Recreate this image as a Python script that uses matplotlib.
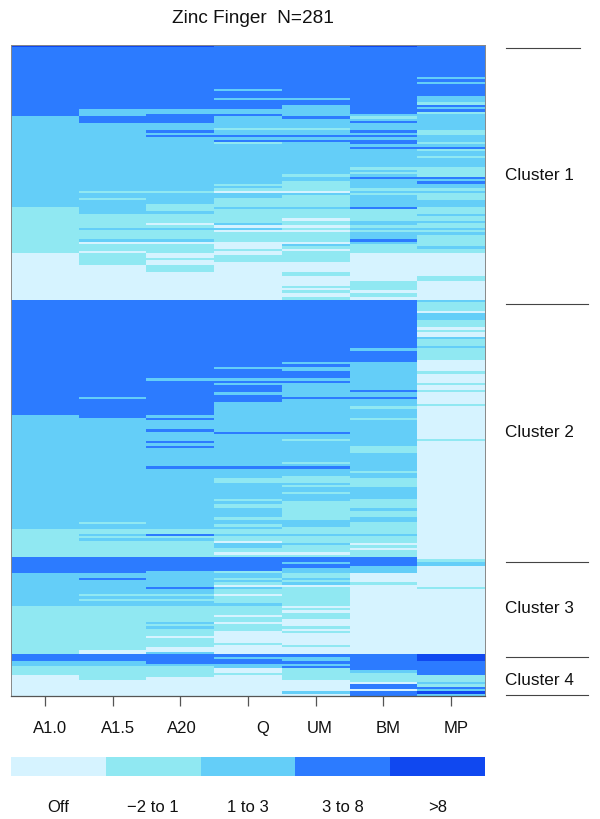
import numpy as np
import matplotlib
matplotlib.use('Agg')
import matplotlib.pyplot as plt
from matplotlib.colors import ListedColormap
from matplotlib.lines import Line2D

plt.rcParams['font.family'] = ['Liberation Sans', 'DejaVu Sans']

a10 = [(4,1),(3,31),(2,70),(1,90),(0,110),(3,160),(2,209),(1,221),(3,228),(2,242),(1,263),(3,266),(2,268),(1,272),(0,281)]
a15 = [(4,1),(3,28),(2,31),(3,34),(2,63),(1,64),(2,66),(1,67),(2,73),(1,79),(2,80),(1,84),(2,85),(0,86),(1,89),(0,90),(1,95),(0,110),
       (3,152),(2,153),(3,161),(2,206),(1,207),(2,209),(1,211),(2,212),(1,213),(2,214),(1,221),
       (3,228),(2,230),(3,231),(2,237),(1,238),(2,239),(1,240),(2,242),(1,261),(0,263),(3,266),(2,268),(1,274),(0,281)]
a20 = [(4,1),(3,28),(2,30),(3,34),(2,37),(3,38),(2,39),(3,40),(2,63),(1,64),(2,69),(1,72),(2,73),(1,77),(0,78),(1,79),(2,80),(1,84),(2,85),(0,86),(1,90),(0,92),(1,93),(0,95),(1,98),(0,110),
       (3,144),(2,145),(3,160),(2,161),(3,162),(2,166),(3,167),(2,171),(3,172),(2,173),(3,174),(2,182),(3,183),(2,209),(1,211),(3,212),(1,213),(2,214),(1,221),
       (3,227),(2,234),(3,235),(2,237),(1,238),(2,239),(1,240),(2,242),(1,249),(2,250),(1,251),(2,252),(1,255),(0,256),(1,260),(0,262),(2,263),(3,267),(2,268),(1,273),(0,281)]
q = [(3,19),(2,20),(3,23),(2,24),(3,28),(2,30),(3,31),(2,36),(1,37),(2,39),(3,40),(2,41),(3,42),(1,43),(2,60),(1,61),(2,62),(1,63),(0,64),(2,66),(1,70),(2,71),(1,77),(2,78),(0,79),(2,80),(0,81),(1,85),(0,88),(1,89),(0,91),(1,94),(0,110),
     (3,139),(2,140),(3,144),(2,145),(3,146),(2,147),(3,150),(2,151),(3,154),(2,167),(3,168),(2,182),(3,183),(2,187),(1,189),(2,196),(1,197),(2,198),(1,200),(2,204),(1,205),(2,207),(1,208),(2,209),(1,211),(2,212),(1,214),(0,215),(2,217),(1,219),(0,220),(1,221),
     (3,227),(1,228),(2,230),(1,231),(2,232),(1,233),(0,234),(2,235),(1,237),(0,238),(1,241),(2,242),(1,246),(0,247),(1,249),(0,250),(1,253),(0,258),(1,259),(0,263),(3,264),(2,265),(3,267),(2,269),(0,271),(1,272),(0,281)]
um = [(3,23),(2,24),(3,26),(2,31),(3,32),(2,36),(1,37),(2,39),(3,40),(2,41),(3,42),(2,56),(1,57),(2,59),(1,63),(0,64),(2,65),(1,70),(2,71),(1,75),(0,76),(1,78),(0,79),(1,80),(0,81),(1,85),(0,86),(2,87),(1,88),(0,89),(1,94),(0,98),(1,100),(0,104),(1,105),(0,106),(1,107),(0,109),(1,110),
      (3,137),(2,138),(3,139),(2,141),(3,144),(2,145),(3,146),(2,152),(3,153),(2,167),(3,168),(2,170),(1,171),(2,180),(1,181),(2,182),(3,183),(2,186),(1,189),(2,190),(1,191),(2,193),(1,194),(2,197),(1,205),(2,208),(1,211),(2,212),(1,215),(2,216),(1,219),(0,220),(1,221),
      (3,223),(2,224),(3,226),(2,228),(1,230),(2,231),(1,232),(2,233),(0,234),(1,242),(0,243),(1,244),(0,245),(1,248),(0,251),(1,252),(0,253),(1,254),(0,259),(1,260),(0,263),(3,264),(2,266),(3,267),(2,268),(3,269),(1,274),(0,279),(2,280),(0,281)]
bm = [(4,1),(3,30),(2,31),(1,32),(2,33),(3,34),(2,37),(3,38),(2,39),(3,40),(2,41),(3,43),(2,44),(3,45),(2,53),(1,54),(2,55),(1,56),(2,57),(3,58),(2,62),(1,63),(2,64),(1,65),(2,70),(3,71),(1,76),(2,78),(1,79),(2,80),(1,81),(2,84),(3,85),(2,86),(1,90),(0,102),(1,106),(0,107),(1,109),(0,110),
      (3,131),(2,132),(3,137),(2,149),(3,150),(2,152),(3,153),(2,156),(1,157),(2,161),(1,162),(2,173),(1,176),(2,184),(1,185),(2,187),(1,191),(2,196),(1,200),(2,201),(1,204),(2,206),(1,211),(2,212),(1,215),(0,216),(1,217),(0,218),(1,221),
      (3,225),(2,228),(0,232),(1,233),(0,263),(3,270),(2,271),(1,275),(0,276),(3,278),(0,279),(3,281)]
mp = [(3,14),(2,15),(3,16),(2,17),(3,22),(2,25),(1,26),(3,27),(2,28),(3,29),(1,30),(2,37),(1,39),(2,42),(1,43),(2,44),(3,45),(1,46),(2,48),(1,49),(2,53),(1,57),(3,58),(2,59),(3,60),(2,62),(1,63),(2,64),(1,67),(2,70),(1,73),(2,74),(1,76),(2,77),(1,79),(2,80),(1,81),(2,82),(1,87),(2,88),(1,90),(0,100),(1,102),(0,110),
      (2,111),(1,115),(0,116),(2,119),(1,122),(0,123),(1,124),(0,126),(2,127),(1,130),(2,131),(1,136),(0,141),(1,142),(0,146),(1,147),(0,149),(1,150),(0,155),(1,156),(0,170),(1,171),(0,222),(1,223),(2,225),(0,234),(1,235),(0,263),
      (4,266),(3,272),(1,275),(2,276),(1,277),(3,278),(2,279),(4,280),(2,281)]

samples = ['A1.0', 'A1.5', 'A20', 'Q', 'UM', 'BM', 'MP']
columns = [a10, a15, a20, q, um, bm, mp]
colors = ['#D6F3FF', '#90E8F2', '#64CEF8', '#2C7BFF', '#1048F0']
range_labels = ['Off', '\u22122 to 1', '1 to 3', '3 to 8', '>8']
cluster_names = ['Cluster 1', 'Cluster 2', 'Cluster 3', 'Cluster 4']

W, H = 600, 820


def expand(runs):
    levels = [r[0] for r in runs]
    ends = [r[1] for r in runs]
    return np.repeat(levels, np.diff([0] + ends))


def box(left, top, right, bottom):
    return [left / W, 1 - bottom / H, (right - left) / W, (bottom - top) / H]


matrix = np.column_stack([expand(c) for c in columns])
cmap = ListedColormap(colors)

fig = plt.figure(figsize=(6, 8.2), dpi=100)

ax = fig.add_axes(box(11, 45.5, 485, 697))
ax.pcolormesh(matrix, cmap=cmap, vmin=0, vmax=4, rasterized=True)
ax.invert_yaxis()
ax.set_yticks([])
ax.set_xticks(np.arange(7) + 0.5)
ax.set_xticklabels([])
ax.tick_params(axis='x', length=7.5, width=0.9, color='#555555')
for side in ax.spines:
    ax.spines[side].set_color('#888888')
    ax.spines[side].set_linewidth(0.7)
ax.spines['bottom'].set_color('#555555')
ax.spines['bottom'].set_linewidth(0.9)

# sample labels sit a little off their ticks in the original
label_x = [50, 118, 182, 263, 320, 388, 456]
for name, x in zip(samples, label_x):
    fig.text(x / W, 1 - 733 / H, name, ha='center', va='baseline', fontsize=12, color='#111111')

key = fig.add_axes(box(11, 757.5, 485, 776.5))
key.pcolormesh([range(5)], cmap=cmap, vmin=0, vmax=4, rasterized=True)
key.set_yticks([])
key.set_xticks(np.arange(5) + 0.5)
key.set_xticklabels(range_labels, fontsize=12, color='#111111')
key.tick_params(axis='x', length=0, pad=17)
for side in key.spines:
    key.spines[side].set_visible(False)

fig.text(253 / W, 1 - 22.7 / H, 'Zinc Finger  N=281', ha='center', va='baseline', fontsize=13.7, color='#111111')

# cluster brackets on the right, the top one is shorter
for y, x1 in zip([48.5, 304.5, 562.5, 658, 695.5], [580, 588, 588, 588, 588]):
    fig.add_artist(Line2D([506 / W, x1 / W], [1 - y / H, 1 - y / H], color='#444444', lw=0.8))
for name, y in zip(cluster_names, [180, 437, 613, 685]):
    fig.text(505 / W, 1 - y / H, name, ha='left', va='baseline', fontsize=12.3, color='#111111')

fig.savefig('out.png', dpi=100)
